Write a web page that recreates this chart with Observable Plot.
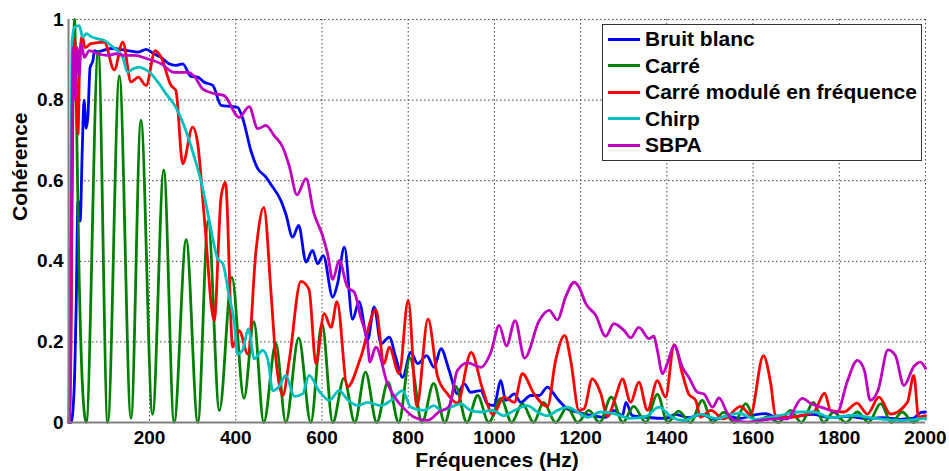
<!DOCTYPE html>
<html>
<head>
<meta charset="utf-8">
<script src="https://cdn.jsdelivr.net/npm/d3@7"></script>
<script src="https://cdn.jsdelivr.net/npm/@observablehq/plot@0.6"></script>
<style>
  html, body { margin: 0; padding: 0; background: #fff; }
  #wrap { position: relative; width: 949px; height: 471px; font-family: "Liberation Sans", Arial, sans-serif; }
  #legend { position: absolute; left: 602px; top: 24px; width: 318px; height: 135px; border: 1px solid #333; background: #fff; box-sizing: content-box; }
  .item { position: absolute; left: 0; height: 26px; display: flex; align-items: center; }
  .swatch { width: 32px; height: 3px; margin-left: 5px; margin-right: 5px; }
  .lbl { font-weight: bold; font-size: 21px; color: #000; white-space: nowrap; }
</style>
</head>
<body>
<div id="wrap"></div>
<script>
const seriesNames = ["Bruit blanc", "Carré", "Carré modulé en fréquence", "Chirp", "SBPA"];
const seriesColors = ["#0000ff", "#008000", "#ff0000", "#00bfbf", "#bf00bf"];
const xTicks = [200, 400, 600, 800, 1000, 1200, 1400, 1600, 1800, 2000];
const yTicks = [0, 0.2, 0.4, 0.6, 0.8, 1];

const bruitBlanc = [[13,0],[18,0],[25,0.08],[30,0.3],[34,0.55],[39,0.5],[44,0.68],[48,0.8],[53,0.73],[57,0.76],[62,0.88],[69,0.9],[72,0.923],[78,0.92],[111,0.928],[149,0.923],[173,0.919],[192,0.926],[210,0.915],[227,0.906],[245,0.89],[261,0.886],[277,0.89],[296,0.859],[312,0.857],[326,0.845],[347,0.836],[366,0.787],[389,0.784],[404,0.782],[416,0.755],[435,0.675],[451,0.63],[470,0.609],[482,0.59],[505,0.55],[516,0.518],[532,0.46],[546,0.489],[563,0.398],[578,0.427],[590,0.394],[603,0.414],[625,0.311],[636,0.344],[652,0.435],[671,0.256],[686,0.3],[706,0.205],[721,0.287],[737,0.195],[756,0.212],[771,0.162],[787,0.112],[806,0.174],[822,0.146],[843,0.166],[860,0.137],[876,0.183],[895,0.129],[914,0.071],[930,0.096],[945,0.075],[968,0.079],[984,0.046],[999,0.042],[1015,0.104],[1026,0.055],[1046,0.071],[1061,0.05],[1084,0.067],[1104,0.067],[1123,0.088],[1146,0.059],[1169,0.034],[1193,0.026],[1227,0.017],[1258,0.013],[1277,0.03],[1297,0.017],[1305,0.05],[1320,0.017],[1351,0.013],[1397,0.01],[1420,0.02],[1450,0.012],[1480,0.02],[1510,0.008],[1540,0.015],[1570,0.01],[1600,0.018],[1630,0.022],[1660,0.01],[1700,0.015],[1740,0.02],[1780,0.012],[1820,0.015],[1860,0.01],[1900,0.012],[1940,0.008],[1970,0.01],[1990,0.025],[2000,0.026]];

const carre = [[13,0],[18,0.3],[23,0.85],[26,1.0],[30,0.8],[36,0.4],[44,0.1],[53,0],[81,0.92],[103,0],[130,0.86],[157,0.01],[180,0.75],[207,0.02],[233,0.627],[257,0],[285,0.454],[312,0],[336,0.5],[362,0.03],[391,0.36],[419,0.06],[442,0.25],[465,0],[493,0.196],[516,0],[546,0.21],[574,0],[600,0.245],[625,0],[651,0.11],[676,0],[701,0.125],[727,0],[753,0.1],[778,0],[804,0.16],[832,0],[859,0.097],[885,0],[910,0.09],[936,0],[961,0.067],[987,0],[1015,0.06],[1040,0],[1065,0.047],[1091,0],[1114,0.05],[1142,0],[1169,0.038],[1193,0],[1219,0.03],[1244,0],[1271,0.063],[1298,0],[1323,0.04],[1351,0],[1378,0.07],[1402,0],[1427,0.028],[1455,0],[1482,0.055],[1506,0],[1532,0.025],[1557,0],[1583,0.047],[1608,0],[1634,0.015],[1659,0],[1687,0.03],[1712,0],[1740,0.05],[1764,0],[1787,0.026],[1815,0],[1842,0.026],[1868,0],[1896,0.047],[1921,0],[1946,0.026],[1972,0],[1993,0.015],[2000,0.01]];

const carreModule = [[13,0],[18,0.2],[22,0.9],[26,0.95],[31,0.8],[34,0.716],[38,0.9],[44,0.96],[50,0.93],[64,0.94],[95,0.944],[118,0.875],[138,0.944],[157,0.845],[174,0.857],[192,0.836],[213,0.923],[227,0.906],[250,0.836],[261,0.824],[277,0.642],[300,0.733],[312,0.69],[327,0.509],[350,0.253],[366,0.56],[376,0.596],[393,0.187],[408,0.228],[428,0.17],[447,0.427],[465,0.534],[482,0.319],[492,0.17],[509,0.067],[524,0.154],[551,0.35],[570,0.33],[586,0.146],[605,0.27],[621,0.236],[635,0.3],[659,0.088],[690,0.162],[725,0.28],[744,0.146],[756,0.187],[779,0.121],[800,0.303],[820,0.04],[846,0.257],[868,0.115],[891,0.071],[914,0.048],[946,0.174],[972,0.085],[997,0.02],[1022,0.063],[1046,0.05],[1065,0.121],[1092,0.071],[1123,0.04],[1142,0.154],[1163,0.216],[1177,0.154],[1196,0.03],[1208,0.034],[1227,0.108],[1247,0.071],[1262,0.015],[1281,0.063],[1297,0.108],[1316,0.05],[1335,0.1],[1355,0.03],[1378,0.104],[1397,0.063],[1417,0.193],[1436,0.121],[1451,0.07],[1467,0.055],[1478,0.013],[1502,0.03],[1532,0.009],[1571,0.04],[1594,0.02],[1624,0.166],[1641,0.096],[1652,0.017],[1687,0.013],[1726,0.021],[1741,0.026],[1766,0.073],[1780,0.03],[1811,0.026],[1841,0.048],[1865,0.021],[1892,0.063],[1919,0.021],[1958,0.05],[1973,0.117],[1984,0.013],[2000,0.017]];

const chirp = [[13,0.03],[17,0.5],[20,0.94],[26,0.981],[37,0.985],[45,0.956],[53,0.965],[64,0.958],[80,0.952],[95,0.948],[111,0.935],[138,0.906],[149,0.869],[161,0.877],[176,0.882],[188,0.877],[200,0.869],[219,0.845],[238,0.816],[261,0.782],[285,0.722],[304,0.658],[319,0.6],[335,0.52],[347,0.455],[358,0.406],[370,0.394],[385,0.311],[397,0.245],[404,0.17],[416,0.18],[429,0.232],[443,0.158],[462,0.179],[474,0.158],[486,0.079],[501,0.09],[516,0.117],[536,0.065],[555,0.071],[570,0.117],[594,0.077],[617,0.055],[640,0.079],[659,0.057],[683,0.042],[706,0.05],[737,0.042],[760,0.055],[787,0.079],[806,0.038],[837,0.03],[860,0.042],[876,0.03],[899,0.038],[922,0.046],[945,0.03],[968,0.026],[996,0.03],[1022,0.017],[1046,0.03],[1077,0.042],[1100,0.026],[1123,0.017],[1146,0.03],[1169,0.038],[1193,0.026],[1216,0.013],[1247,0.026],[1281,0.021],[1316,0.01],[1351,0.015],[1382,0.038],[1409,0.015],[1440,0.005],[1478,0.021],[1513,0.01],[1567,0.023],[1607,0.008],[1652,0.015],[1703,0.026],[1741,0.026],[1780,0.012],[1833,0.018],[1884,0.01],[1942,0.005],[1988,0.009],[2000,0.01]];

const sbpa = [[13,0],[16,0.05],[18,0.4],[20,0.7],[23,0.93],[27,0.8],[32,0.93],[37,0.86],[41,0.94],[49,0.906],[60,0.923],[80,0.915],[103,0.911],[122,0.915],[142,0.911],[165,0.911],[196,0.902],[227,0.89],[257,0.869],[289,0.869],[304,0.859],[323,0.828],[350,0.816],[373,0.811],[408,0.757],[431,0.784],[451,0.729],[470,0.737],[489,0.712],[509,0.683],[524,0.637],[542,0.565],[563,0.605],[581,0.52],[601,0.465],[613,0.419],[625,0.355],[640,0.402],[659,0.336],[675,0.323],[690,0.261],[706,0.195],[711,0.15],[725,0.187],[752,0.096],[771,0.059],[791,0.034],[814,0.013],[845,0.005],[871,0.026],[895,0.04],[914,0.129],[938,0.148],[968,0.137],[992,0.175],[1011,0.241],[1028,0.19],[1048,0.253],[1070,0.16],[1104,0.253],[1127,0.278],[1146,0.255],[1165,0.311],[1185,0.348],[1196,0.336],[1212,0.295],[1235,0.266],[1258,0.214],[1277,0.245],[1301,0.228],[1316,0.21],[1335,0.236],[1359,0.208],[1370,0.214],[1378,0.179],[1390,0.121],[1401,0.146],[1417,0.191],[1436,0.137],[1451,0.112],[1471,0.075],[1486,0.071],[1506,0.038],[1521,0.061],[1540,0.024],[1556,0.005],[1587,0.001],[1617,0.005],[1648,0.009],[1679,0.009],[1714,0.06],[1733,0.048],[1757,0.038],[1780,0.03],[1795,0.025],[1818,0.1],[1842,0.154],[1858,0.13],[1872,0.055],[1890,0.08],[1913,0.18],[1930,0.166],[1950,0.092],[1973,0.139],[1988,0.15],[2000,0.134]];

const seriesData = [bruitBlanc, carre, carreModule, chirp, sbpa];
const table = seriesData.flatMap((arr, i) => arr.map(([f, c]) => ({f, c, serie: seriesNames[i]})));

const xMin = 12;
const gridStyle = {stroke: "#444", strokeDasharray: "1.5,2.5", strokeOpacity: 1, strokeWidth: 1};

const chart = Plot.plot({
  width: 949,
  height: 471,
  marginLeft: 68,
  marginRight: 24,
  marginTop: 19,
  marginBottom: 49,
  style: {fontFamily: "'Liberation Sans', Arial, sans-serif", fontWeight: "bold", fontSize: "19px", color: "#000", background: "#fff"},
  x: {domain: [xMin, 2000]},
  y: {domain: [0, 1]},
  color: {domain: seriesNames, range: seriesColors},
  marks: [
    Plot.gridX(xTicks, gridStyle),
    Plot.gridY(yTicks.filter(d => d > 0), gridStyle),
    Plot.axisX(xTicks, {tickSize: 0, tickPadding: 8, tickFormat: d => String(d), label: null, fontSize: 19, fontWeight: "bold"}),
    Plot.axisY(yTicks, {tickSize: 0, tickPadding: 5, tickFormat: d => String(d), label: null, fontSize: 19, fontWeight: "bold"}),
    Plot.text(["Fréquences (Hz)"], {text: d => d, frameAnchor: "bottom", lineAnchor: "middle", dy: 38, fontSize: 21, fontWeight: "bold", fill: "#000"}),
    Plot.text(["Cohérence"], {text: d => d, frameAnchor: "left", lineAnchor: "middle", dx: -48, rotate: -90, fontSize: 21, fontWeight: "bold", fill: "#000"}),
    Plot.lineY(table, {x: "f", y: "c", z: "serie", stroke: "serie", strokeWidth: 2.8, curve: "monotone-x"}),
    Plot.ruleY([0], {stroke: "#808080", strokeWidth: 2}),
    Plot.ruleX([xMin], {stroke: "#808080", strokeWidth: 2})
  ]
});

const wrap = document.getElementById("wrap");
wrap.appendChild(chart);

const legend = document.createElement("div");
legend.id = "legend";
seriesNames.forEach((name, i) => {
  const item = document.createElement("div");
  item.className = "item";
  item.style.top = (1 + i * 26.5) + "px";
  const sw = document.createElement("div");
  sw.className = "swatch";
  sw.style.background = seriesColors[i];
  const lb = document.createElement("span");
  lb.className = "lbl";
  lb.textContent = name;
  item.appendChild(sw);
  item.appendChild(lb);
  legend.appendChild(item);
});
wrap.appendChild(legend);
</script>
</body>
</html>
